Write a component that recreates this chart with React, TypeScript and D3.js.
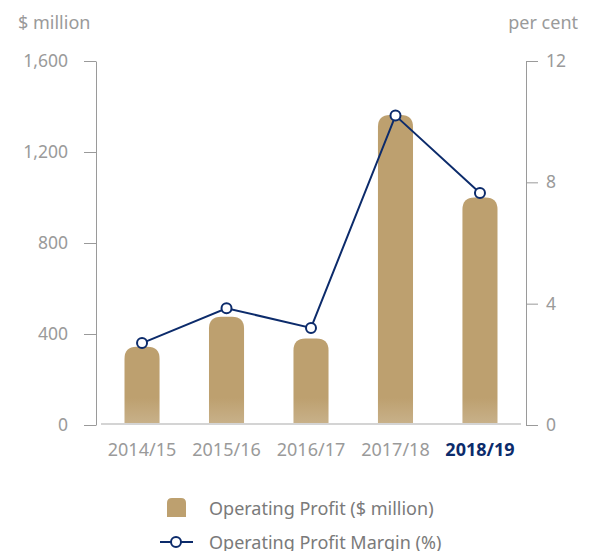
import React, { useEffect, useRef } from "react";
import * as d3 from "d3";

const years = ["2014/15", "2015/16", "2016/17", "2017/18", "2018/19"];
const profit = [344, 476, 380, 1363, 1000];
const margin = [2.7, 3.85, 3.2, 10.2, 7.65];
const leftTicks = [0, 400, 800, 1200, 1600];
const rightTicks = [0, 4, 8, 12];

const App = () => {
  const svgRef = useRef<SVGSVGElement>(null);

  useEffect(() => {
    const width = 589, height = 551;
    const font = "'Noto Sans', 'Open Sans', sans-serif";
    const grey = "#9a9a9a";
    const navy = "#0c2b6b";
    const gold = "#bda06f";

    const svg = d3.select(svgRef.current)
      .attr("width", width)
      .attr("height", height);
    svg.selectAll("*").remove();

    const x = d3.scaleBand<string>()
      .domain(years)
      .range([100, 522])
      .paddingInner(0.585)
      .paddingOuter(0.29);

    const yL = d3.scaleLinear().domain([0, 1600]).range([425, 61]);
    const yR = d3.scaleLinear().domain([0, 12]).range([425, 61]);

    // gradient for the faded bar bottoms
    const grad = svg.append("defs").append("linearGradient")
      .attr("id", "barGrad")
      .attr("gradientUnits", "userSpaceOnUse")
      .attr("x1", 0).attr("y1", 398).attr("x2", 0).attr("y2", 424);
    grad.append("stop").attr("offset", "0").attr("stop-color", gold);
    grad.append("stop").attr("offset", "1").attr("stop-color", "#c8b18a");

    // axis titles
    svg.append("text").attr("x", 18).attr("y", 29)
      .attr("font-family", font).attr("font-size", 18).attr("fill", grey)
      .text("$ million");
    svg.append("text").attr("x", 578).attr("y", 29).attr("text-anchor", "end")
      .attr("font-family", font).attr("font-size", 18).attr("fill", grey)
      .text("per cent");

    // left axis
    const left = svg.append("g").attr("transform", "translate(96,0)")
      .call(d3.axisLeft(yL).tickValues(leftTicks).tickSize(12).tickSizeOuter(0).tickPadding(16).tickFormat(d3.format(",")));
    left.select(".domain").attr("stroke", grey);
    left.selectAll(".tick line").attr("stroke", grey);
    left.selectAll("text").attr("font-family", font).attr("font-size", 17.5).attr("fill", grey);

    // right axis
    const right = svg.append("g").attr("transform", "translate(526,0)")
      .call(d3.axisRight(yR).tickValues(rightTicks).tickSize(12).tickSizeOuter(0).tickPadding(8));
    right.select(".domain").attr("stroke", grey);
    right.selectAll(".tick line").attr("stroke", grey);
    right.selectAll("text").attr("font-family", font).attr("font-size", 17.5).attr("fill", grey);

    // bars with rounded tops
    const r = 12;
    svg.append("g").selectAll("path")
      .data(profit)
      .enter().append("path")
      .attr("fill", "url(#barGrad)")
      .attr("d", (d, i) => {
        const x0 = x(years[i])!, w = x.bandwidth();
        const y0 = yL(d), yb = yL(0);
        return `M${x0},${yb}V${y0 + r}Q${x0},${y0} ${x0 + r},${y0}H${x0 + w - r}Q${x0 + w},${y0} ${x0 + w},${y0 + r}V${yb}Z`;
      });

    // baseline
    svg.append("line")
      .attr("x1", 101).attr("x2", 521).attr("y1", 424).attr("y2", 424)
      .attr("stroke", "#d4d4d4").attr("stroke-width", 2);

    // x labels
    svg.append("g").selectAll("text")
      .data(years)
      .enter().append("text")
      .attr("x", d => x(d)! + x.bandwidth() / 2)
      .attr("y", 456)
      .attr("text-anchor", "middle")
      .attr("font-family", font)
      .attr("font-size", 18)
      .attr("font-weight", (d, i) => (i === years.length - 1 ? 700 : 400))
      .attr("fill", (d, i) => (i === years.length - 1 ? navy : grey))
      .text(d => d);

    // margin line
    const line = d3.line<number>()
      .x((d, i) => x(years[i])! + x.bandwidth() / 2)
      .y(d => yR(d));
    svg.append("path").datum(margin)
      .attr("d", line)
      .attr("fill", "none")
      .attr("stroke", navy)
      .attr("stroke-width", 2);
    svg.append("g").selectAll("circle")
      .data(margin)
      .enter().append("circle")
      .attr("cx", (d, i) => x(years[i])! + x.bandwidth() / 2)
      .attr("cy", d => yR(d))
      .attr("r", 5)
      .attr("fill", "#fff")
      .attr("stroke", navy)
      .attr("stroke-width", 2);

    // legend
    const lg = svg.append("g");
    lg.append("path")
      .attr("d", "M167,517V503Q167,498 172,498H181Q186,498 186,503V517Z")
      .attr("fill", gold);
    lg.append("text").attr("x", 209).attr("y", 515)
      .attr("font-family", font).attr("font-size", 18).attr("fill", "#7a7a7a")
      .text("Operating Profit ($ million)");
    lg.append("line").attr("x1", 160).attr("x2", 193).attr("y1", 542).attr("y2", 542)
      .attr("stroke", navy).attr("stroke-width", 2);
    lg.append("circle").attr("cx", 176).attr("cy", 542).attr("r", 5)
      .attr("fill", "#fff").attr("stroke", navy).attr("stroke-width", 2);
    lg.append("text").attr("x", 209).attr("y", 549)
      .attr("font-family", font).attr("font-size", 18).attr("fill", "#7a7a7a")
      .text("Operating Profit Margin (%)");
  }, []);

  return <svg ref={svgRef} style={{ position: "absolute", left: 0, top: 0 }}></svg>;
};

export default App;
